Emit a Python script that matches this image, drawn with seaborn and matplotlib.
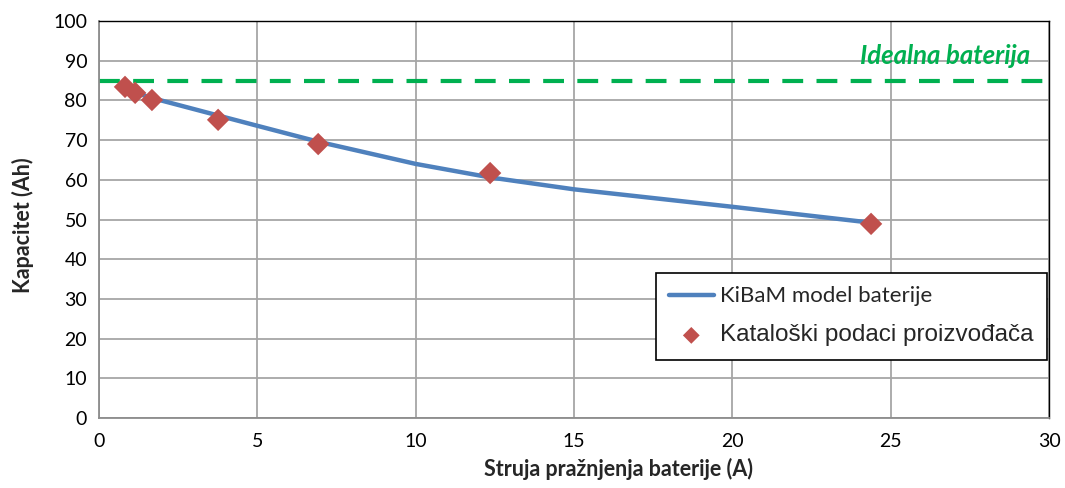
import matplotlib
matplotlib.use("Agg")
import matplotlib.pyplot as plt
import seaborn as sns
import pandas as pd

# KiBaM model curve: discharge current (A) vs capacity (Ah)
model_current = [0.82, 1.67, 3.76, 5.0, 6.92, 10.0, 12.35, 15.0, 20.0, 24.38]
model_capacity = [82.8, 80.6, 76.2, 73.6, 69.6, 64.0, 60.6, 57.6, 53.2, 49.2]

# Manufacturer catalogue points
catalog_current = [0.82, 1.14, 1.67, 3.76, 6.92, 12.35, 24.38]
catalog_capacity = [83.4, 81.9, 80.1, 75.1, 69.0, 61.7, 48.9]

ideal_capacity = 85.0

x_ticks = [0, 5, 10, 15, 20, 25, 30]
y_ticks = [0, 10, 20, 30, 40, 50, 60, 70, 80, 90, 100]

sns.set_style("white")
plt.rcParams["font.family"] = ["Lato", "DejaVu Sans"]

fig = plt.figure(figsize=(10.65, 4.88), dpi=100)
ax = fig.add_axes([0.093, 0.1434, 0.892, 0.8136])

model_df = pd.DataFrame({"I": model_current, "C": model_capacity})
cat_df = pd.DataFrame({"I": catalog_current, "C": catalog_capacity})

ax.axhline(ideal_capacity, color="#00B050", lw=3, ls=(0, (5, 3.2)), zorder=2)
sns.lineplot(data=model_df, x="I", y="C", ax=ax, color="#4F81BD", lw=3.2,
             label="KiBaM model baterije", zorder=3)
sns.scatterplot(data=cat_df, x="I", y="C", ax=ax, marker="D", s=130,
                color="#C0504D", edgecolor="none", label="Kataloški podaci proizvođača",
                zorder=4)

ax.set_xlim(0, 30)
ax.set_ylim(0, 100)
ax.set_xticks(x_ticks)
ax.set_yticks(y_ticks)
ax.grid(True, color="#A6A6A6", lw=1.3)
ax.set_axisbelow(True)
ax.tick_params(axis="both", labelsize=14, colors="#000000", length=5,
               color="#8C8C8C", direction="out")
ax.tick_params(axis="x", direction="inout", length=8, pad=7)

for side in ["left", "bottom"]:
    ax.spines[side].set_color("#8C8C8C")
    ax.spines[side].set_linewidth(1.3)
for side in ["top", "right"]:
    ax.spines[side].set_color("#000000")
    ax.spines[side].set_linewidth(1.0)

ax.set_xlabel("Struja pražnjenja baterije (A)", fontsize=15.5, fontweight="bold")
ax.set_ylabel("Kapacitet (Ah)", fontsize=15.5, fontweight="bold")
ax.xaxis.set_label_coords(0.547, -0.1)
ax.yaxis.set_label_coords(-0.068, 0.486)

ax.text(29.4, 91.3, "Idealna baterija", color="#00B050", fontsize=18.5,
        fontweight="bold", fontstyle="italic", ha="right", va="center")

leg = ax.legend(loc="upper left", bbox_to_anchor=(0.586, 0.365), fontsize=16,
                frameon=True, fancybox=False, edgecolor="#000000", framealpha=1,
                handlelength=2.0, handletextpad=0.3, labelspacing=0.8,
                borderpad=0.6, markerscale=0.75, borderaxespad=0)
leg.get_frame().set_linewidth(1.2)
leg.get_texts()[1].set_fontsize(17.5)
leg.get_texts()[1].set_fontfamily(["Liberation Sans", "DejaVu Sans"])

fig.savefig("out.png", dpi=100)
